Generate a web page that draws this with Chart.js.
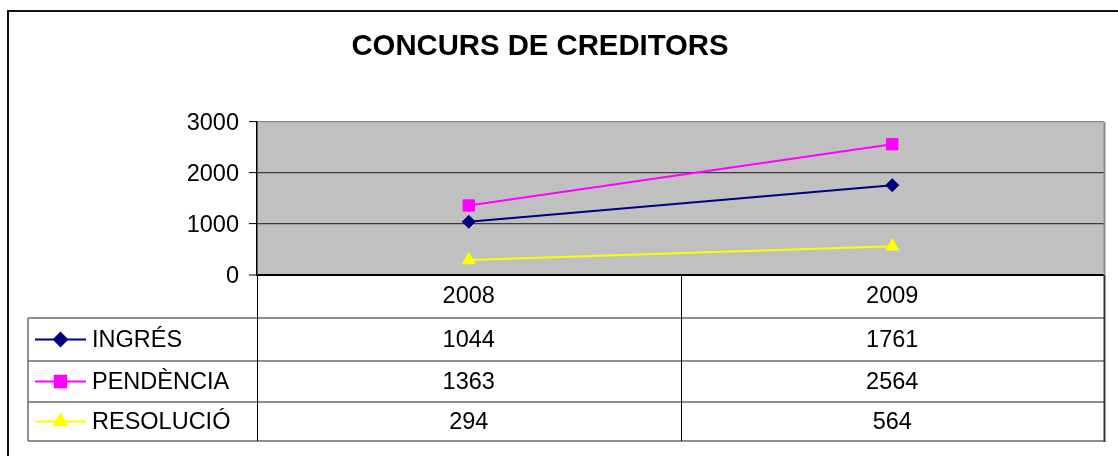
<!DOCTYPE html>
<html><head><meta charset="utf-8">
<script src="https://cdn.jsdelivr.net/npm/chart.js@4/dist/chart.umd.min.js"></script>
<style>html,body{margin:0;padding:0;background:#fff;overflow:hidden;} canvas{display:block;}</style>
</head><body>
<canvas id="c" width="1118" height="456"></canvas>
<script>
const TITLE = 'CONCURS DE CREDITORS';
const categories = ['2008', '2009'];
const seriesNames = ['INGRÉS', 'PENDÈNCIA', 'RESOLUCIÓ'];
const ingres = [1044, 1761];
const pendencia = [1363, 2564];
const resolucio = [294, 564];
const yMin = 0, yMax = 3000, yStep = 1000;

const FONT = '"Liberation Sans", Arial, sans-serif';
const seriesColors = ['#000080', '#FF00FF', '#FFFF00'];
const seriesStyles = ['rectRot', 'rect', 'triangle'];
const seriesRadius = [6.5, 8, 7.5];
const seriesValues = [ingres, pendencia, resolucio];

// table row boundaries relative to plot bottom (layout only)
const rowEdges = [0, 43, 86, 127, 166];
const tableLeft = 28;

const decor = {
  id: 'decor',
  beforeDraw(chart) {
    const {ctx, chartArea: a} = chart;
    ctx.save();
    ctx.fillStyle = '#fff';
    ctx.fillRect(0, 0, chart.width, chart.height);
    ctx.fillStyle = '#C0C0C0';
    ctx.fillRect(a.left, a.top, a.right - a.left, a.bottom - a.top);
    ctx.restore();
  },
  afterDraw(chart) {
    const {ctx, chartArea: a} = chart;
    const xs = chart.scales.x;
    ctx.save();
    // outer border
    ctx.strokeStyle = '#111';
    ctx.lineWidth = 2;
    ctx.strokeRect(8, 11, 1300, 800);
    // title
    ctx.fillStyle = '#000';
    ctx.font = 'bold 29.3px ' + FONT;
    ctx.textAlign = 'center';
    ctx.textBaseline = 'middle';
    ctx.fillText(TITLE, 540, 47);

    // plot right border
    ctx.strokeStyle = '#8a8a8a';
    ctx.lineWidth = 2;
    ctx.beginPath();
    ctx.moveTo(a.right + 0.5, a.top);
    ctx.lineTo(a.right + 0.5, a.bottom);
    ctx.stroke();

    const top = a.bottom;
    const y = rowEdges.map(v => top + v);
    const mid = (xs.getPixelForValue(0) + xs.getPixelForValue(1)) / 2;

    // horizontal lines
    ctx.strokeStyle = '#6a6a6a';
    ctx.lineWidth = 1.5;
    for (let i = 1; i < y.length; i++) {
      ctx.beginPath();
      ctx.moveTo(tableLeft, y[i]);
      ctx.lineTo(a.right, y[i]);
      ctx.stroke();
    }
    // left table border
    ctx.beginPath();
    ctx.moveTo(tableLeft, y[1]);
    ctx.lineTo(tableLeft, y[4]);
    ctx.stroke();
    // verticals
    ctx.strokeStyle = '#000';
    ctx.lineWidth = 1;
    [a.left - 0.5, mid].forEach(xv => {
      ctx.beginPath();
      ctx.moveTo(Math.round(xv) + 0.5, top);
      ctx.lineTo(Math.round(xv) + 0.5, y[4]);
      ctx.stroke();
    });
    ctx.strokeStyle = '#333';
    ctx.lineWidth = 2;
    ctx.beginPath();
    ctx.moveTo(a.right + 0.5, top);
    ctx.lineTo(a.right + 0.5, y[4] + 1);
    ctx.stroke();

    // text
    ctx.fillStyle = '#000';
    ctx.font = '23.5px ' + FONT;
    ctx.textBaseline = 'middle';
    ctx.textAlign = 'center';
    categories.forEach((c, i) => {
      ctx.fillText(c, xs.getPixelForValue(i), (y[0] + y[1]) / 2);
    });
    seriesNames.forEach((name, r) => {
      const cy = (y[r + 1] + y[r + 2]) / 2;
      // legend key
      ctx.strokeStyle = seriesColors[r];
      ctx.lineWidth = 2;
      ctx.beginPath();
      ctx.moveTo(35, cy);
      ctx.lineTo(86, cy);
      ctx.stroke();
      ctx.fillStyle = seriesColors[r];
      Chart.helpers.drawPoint(ctx, {pointStyle: seriesStyles[r], radius: seriesRadius[r], rotation: 0, borderWidth: 1}, 60.5, cy);
      ctx.fillStyle = '#000';
      ctx.textAlign = 'left';
      ctx.fillText(name, 92, cy + 1);
      ctx.textAlign = 'center';
      seriesValues[r].forEach((v, i) => {
        ctx.fillText(String(v), xs.getPixelForValue(i), cy + 1);
      });
    });
    ctx.restore();
  }
};

new Chart(document.getElementById('c'), {
  type: 'line',
  data: {
    labels: categories,
    datasets: seriesNames.map((n, i) => ({
      label: n,
      data: seriesValues[i],
      borderColor: seriesColors[i],
      backgroundColor: seriesColors[i],
      pointBackgroundColor: seriesColors[i],
      pointBorderColor: seriesColors[i],
      pointStyle: seriesStyles[i],
      pointRadius: seriesRadius[i],
      pointBorderWidth: 1,
      borderWidth: 2,
      tension: 0,
      fill: false
    }))
  },
  options: {
    responsive: false,
    animation: false,
    devicePixelRatio: 1,
    layout: {padding: {top: 122, left: 0, right: 14, bottom: 181}},
    plugins: {legend: {display: false}, title: {display: false}, tooltip: {enabled: false}},
    scales: {
      x: {type: 'category', offset: true, display: false},
      y: {
        min: yMin, max: yMax,
        afterFit(s) { s.width = 257; },
        ticks: {stepSize: yStep, padding: 10, labelOffset: 2, color: '#000', font: {family: FONT, size: 23.5},
                callback: v => String(v)},
        grid: {
          color: c => c.tick.value === 0 ? '#000' : (c.tick.value === yMax ? '#8a8a8a' : '#3c3c3c'),
          lineWidth: c => c.tick.value === 0 ? 2 : 1.2,
          tickLength: 8, tickColor: '#000', tickWidth: 1
        },
        border: {color: '#000', width: 1.5}
      }
    }
  },
  plugins: [decor]
});
</script>
</body></html>
